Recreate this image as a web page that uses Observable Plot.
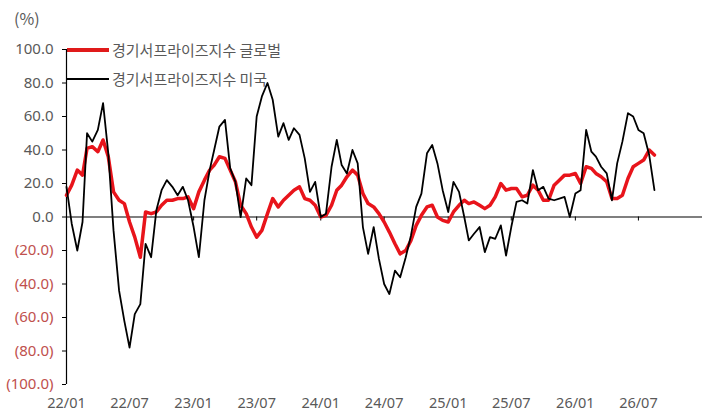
<!DOCTYPE html>
<html>
<head>
<meta charset="utf-8">
<script src="https://cdn.jsdelivr.net/npm/d3@7"></script>
<script src="https://cdn.jsdelivr.net/npm/@observablehq/plot@0.6"></script>
<style>
  html, body { margin: 0; padding: 0; background: #fff; }
  #wrap { position: relative; width: 702px; height: 413px; overflow: hidden;
          font-family: "Noto Sans CJK KR", "Noto Sans", sans-serif; }
  #chart { position: absolute; left: 0; top: 0; z-index: 1; }
  .lab { position: absolute; color: #595959; white-space: nowrap; line-height: 1; }
  .swatch { position: absolute; }
</style>
</head>
<body>
<div id="wrap">
  <div class="lab" id="unit" style="left:14px; top:10px; font-size:16px;">(%)</div>
  <div class="swatch" id="sw1" style="left:67px; top:48px; width:42px; height:4px; background:#e01a1a;"></div>
  <div class="lab" id="lg1" style="left:112px; top:42px; font-size:15px;"></div>
  <div class="swatch" id="sw2" style="left:67px; top:78px; width:42px; height:2px; background:#000;"></div>
  <div class="lab" id="lg2" style="left:112px; top:71px; font-size:15px;"></div>
  <div id="chart"></div>
</div>
<script>
// ---- data (semi-monthly readings, starting 2022-01-01) ----
const seriesNames = ["경기서프라이즈지수 글로벌", "경기서프라이즈지수 미국"];
const startYear = 2022, startMonth = 0;

const globalValues = [
  13, 19, 28, 25, 41, 42, 39, 46, 36, 15, 10, 8, -3, -12, -24, 3,
  2, 3, 7, 10, 10, 11, 11, 12, 5, 15, 22, 28, 31, 36, 35, 28,
  21, 7, 2, -6, -12, -8, 2, 11, 6, 10, 13, 16, 18, 11, 10, 7,
  0, 1, 7, 16, 19, 24, 28, 25, 14, 8, 6, 2, -3, -9, -16, -22,
  -20, -14, -5, 1, 6, 7, 0, -2, -3, 3, 7, 10, 8, 9, 7, 5,
  7, 12, 20, 16, 17, 17, 12, 13, 19, 16, 10, 10, 19, 22, 25, 25,
  26, 20, 30, 29, 26, 24, 21, 11, 11, 13, 23, 30, 32, 34, 40, 37
];

const usValues = [
  18, -4, -20, -3, 50, 45, 52, 68, 38, -8, -44, -62, -78, -58, -52, -16,
  -24, 4, 16, 22, 18, 13, 18, 10, -6, -24, 10, 28, 40, 54, 58, 29,
  21, 0, 23, 19, 60, 72, 80, 70, 48, 56, 46, 53, 49, 35, 15, 21,
  0, 2, 30, 46, 31, 26, 40, 32, -6, -22, -6, -25, -40, -46, -32, -36,
  -24, -11, 6, 14, 38, 43, 32, 16, 3, 21, 15, 0, -14, -10, -6, -21,
  -12, -13, -5, -23, -6, 9, 10, 8, 28, 16, 18, 11, 10, 11, 12, 0,
  14, 16, 52, 39, 36, 30, 26, 10, 32, 45, 62, 60, 52, 50, 37, 16
];

const yTicksPos = [0, 20, 40, 60, 80, 100];
const yTicksNeg = [-100, -80, -60, -40, -20];
const xTickLabels = ["22/01", "22/07", "23/01", "23/07", "24/01", "24/07", "25/01", "25/07", "26/01", "26/07"];

// ---- build table ----
const dates = globalValues.map((_, k) =>
  new Date(Date.UTC(startYear, startMonth + Math.floor(k / 2), k % 2 ? 16 : 1)));
const rows = dates.map((d, i) => ({date: d, global: globalValues[i], us: usValues[i]}));
const xTickDates = xTickLabels.map(s => {
  const [yy, mm] = s.split("/").map(Number);
  return new Date(Date.UTC(2000 + yy, mm - 1, 1));
});
const xStart = new Date(Date.UTC(2022, 0, 1));
const xEnd = new Date(Date.UTC(2027, 0, 1));

const fmt = d => d < 0 ? `(${(-d).toFixed(1)})` : d.toFixed(1);

document.getElementById("lg1").textContent = seriesNames[0];
document.getElementById("lg2").textContent = seriesNames[1];

const chart = Plot.plot({
  width: 702,
  height: 413,
  marginLeft: 66,
  marginRight: 0,
  marginTop: 49,
  marginBottom: 29,
  style: {background: "transparent", fontFamily: "'Noto Sans', sans-serif", fontSize: "15px", overflow: "visible"},
  x: {type: "utc", domain: [xStart, xEnd]},
  y: {domain: [-100, 100]},
  marks: [
    Plot.ruleX([xStart], {y1: -100, y2: 100, stroke: "#000", strokeWidth: 1.2}),
    Plot.axisY(yTicksPos, {tickSize: 4, tickPadding: 9, tickFormat: fmt, fill: "#595959", stroke: "#000", label: null, fontSize: 15}),
    Plot.axisY(yTicksNeg, {tickSize: 4, tickPadding: 9, tickFormat: fmt, fill: "#c0504d", stroke: "#000", label: null, fontSize: 15}),
    Plot.axisX(xTickDates, {anchor: "bottom", tickSize: 0, tickPadding: 13, tickFormat: (d, i) => xTickLabels[i], fill: "#595959", label: null, fontSize: 14.5}),
    Plot.ruleY([0], {stroke: "#000", strokeWidth: 1.2}),
    Plot.ruleX(xTickDates.slice(1), {y1: 0, y2: -2.4, stroke: "#000"}),
    Plot.line(rows, {x: "date", y: "global", stroke: "#e8141b", strokeWidth: 3.5, strokeLinejoin: "round"}),
    Plot.line(rows, {x: "date", y: "us", stroke: "#000", strokeWidth: 1.8, strokeLinejoin: "round"})
  ]
});
document.getElementById("chart").appendChild(chart);
</script>
</body>
</html>
